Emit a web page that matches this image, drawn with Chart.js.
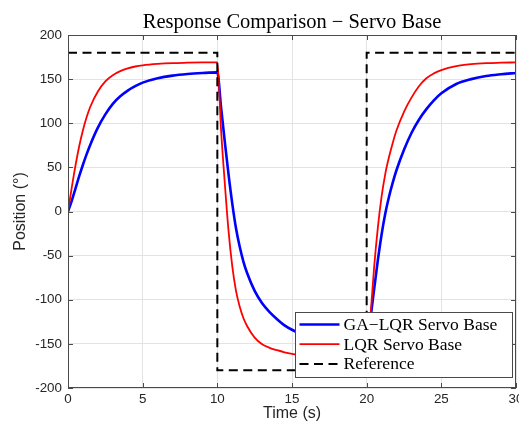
<!DOCTYPE html>
<html>
<head>
<meta charset="utf-8">
<script src="https://cdn.jsdelivr.net/npm/chart.js@4.4.1/dist/chart.umd.min.js"></script>
<style>
  html, body { margin: 0; padding: 0; background: #fff; }
  canvas { display: block; }
</style>
</head>
<body>
<canvas id="servoChart" width="519" height="430"></canvas>
<script>
// ---------- data ----------
const timeS = [
  0, 0.25, 0.5, 0.75, 1, 1.25, 1.5, 2, 2.5, 3, 3.5, 4, 4.5, 5, 6, 7, 8, 9,
  10, 10.25, 10.5, 10.75, 11, 11.25, 11.5, 11.75, 12, 12.5, 13, 13.5, 14, 14.5, 15, 16, 17, 18, 19,
  20, 20.25, 20.5, 20.75, 21, 21.25, 21.5, 21.75, 22, 22.5, 23, 23.5, 24, 24.5, 25, 26, 27, 28, 29, 30
];
const gaLqrServo = [
  0, 12, 26, 40, 53, 65, 76, 95, 110, 122, 130.5, 137, 142, 146, 151, 154, 155.8, 156.9,
  157.6, 118, 79, 42, 9, -19, -40, -57, -70, -90, -104, -114, -122, -129, -134, -142, -147.5, -151, -153.5,
  -155, -122, -88, -55, -26, -2, 17, 33, 47, 70, 89, 104, 116, 126, 134, 144.5, 150, 153.5, 155.5, 157
];
const lqrServo = [
  0, 27, 52, 74, 92, 107, 119, 136, 147.5, 154.5, 159, 162.2, 164.3, 165.7, 167.3, 168.2, 168.6, 168.9,
  169, 92, 32, -22, -62, -90, -108, -121, -130, -143, -150.5, -154.5, -157.2, -159.5, -161.3, -164, -165.8, -166.9, -167.6,
  -168, -120, -63, -18, 17, 43, 62, 78, 92, 113, 129, 142, 151, 156.5, 160.3, 164.8, 167, 168.1, 168.6, 169
];
const refTime = [0, 10, 10, 20, 20, 30];
const refPosition = [180, 180, -180, -180, 180, 180];

const xTicks = [0, 5, 10, 15, 20, 25, 30];
const yTicks = [-200, -150, -100, -50, 0, 50, 100, 150, 200];

const toPoints = (xs, ys) => xs.map((x, i) => ({ x: x, y: ys[i] }));

const axisColor = '#262626';
const gridColor = '#e3e3e3';
const tickFont = { family: 'Liberation Sans, Arial, sans-serif', size: 13.4 };
const labelFont = { family: 'Liberation Sans, Arial, sans-serif', size: 16 };
const serif = 'Liberation Serif, "Times New Roman", serif';

// title, axes box, inward ticks and the inside legend (MATLAB look)
const matlabFrame = {
  id: 'matlabFrame',
  afterDatasetsDraw(chart) {
    const { ctx, chartArea: a, scales } = chart;
    ctx.save();

    // box
    ctx.strokeStyle = '#4a4a4a';
    ctx.lineWidth = 1;
    ctx.setLineDash([]);
    ctx.strokeRect(Math.round(a.left) + 0.5, Math.round(a.top) + 0.5,
      Math.round(a.right - a.left) - 1, Math.round(a.bottom - a.top) - 1);

    // inward ticks
    const len = 5;
    ctx.beginPath();
    xTicks.forEach(v => {
      const px = Math.round(scales.x.getPixelForValue(v)) + 0.5;
      ctx.moveTo(px, a.bottom); ctx.lineTo(px, a.bottom - len);
      ctx.moveTo(px, a.top); ctx.lineTo(px, a.top + len);
    });
    yTicks.forEach(v => {
      const py = Math.round(scales.y.getPixelForValue(v)) + 0.5;
      ctx.moveTo(a.left, py); ctx.lineTo(a.left + len, py);
      ctx.moveTo(a.right, py); ctx.lineTo(a.right - len, py);
    });
    ctx.stroke();

    // title
    ctx.fillStyle = '#000';
    ctx.font = '20.5px ' + serif;
    ctx.textAlign = 'center';
    ctx.textBaseline = 'alphabetic';
    ctx.fillText('Response Comparison \u2212 Servo Base', (a.left + a.right) / 2, 27.5);

    // legend
    const box = { x: 295.5, y: 312.5, w: 217, h: 65 };
    ctx.fillStyle = '#fff';
    ctx.fillRect(box.x, box.y, box.w, box.h);
    ctx.strokeStyle = '#4a4a4a';
    ctx.lineWidth = 1;
    ctx.strokeRect(box.x, box.y, box.w, box.h);
    ctx.font = '17.5px ' + serif;
    ctx.textAlign = 'left';
    ctx.textBaseline = 'middle';
    chart.data.datasets.forEach((ds, i) => {
      const y = box.y + 12 + i * 19.7;
      ctx.beginPath();
      ctx.strokeStyle = ds.borderColor;
      ctx.lineWidth = ds.borderWidth;
      ctx.setLineDash(ds.borderDash || []);
      ctx.moveTo(box.x + 4, y);
      ctx.lineTo(box.x + 44, y);
      ctx.stroke();
      ctx.setLineDash([]);
      ctx.fillStyle = '#000';
      ctx.fillText(ds.label, box.x + 48, y + 1);
    });
    ctx.restore();
  }
};

const ctx = document.getElementById('servoChart').getContext('2d');
new Chart(ctx, {
  type: 'line',
  data: {
    datasets: [
      {
        label: 'GA\u2212LQR Servo Base',
        data: toPoints(timeS, gaLqrServo),
        borderColor: '#0000ff',
        borderWidth: 2.6,
        pointRadius: 0,
        cubicInterpolationMode: 'monotone',
        order: 3
      },
      {
        label: 'LQR Servo Base',
        data: toPoints(timeS, lqrServo),
        borderColor: '#ff0000',
        borderWidth: 1.8,
        pointRadius: 0,
        cubicInterpolationMode: 'monotone',
        order: 2
      },
      {
        label: 'Reference',
        data: toPoints(refTime, refPosition),
        borderColor: '#000000',
        borderWidth: 2,
        borderDash: [9, 5.5],
        pointRadius: 0,
        tension: 0,
        order: 1
      }
    ]
  },
  options: {
    responsive: false,
    animation: false,
    devicePixelRatio: 1,
    layout: { padding: { left: 0, right: 3, top: 35, bottom: 0 } },
    plugins: {
      legend: { display: false },
      title: { display: false },
      tooltip: { enabled: false }
    },
    scales: {
      x: {
        type: 'linear',
        min: 0,
        max: 30,
        afterBuildTicks: s => { s.ticks = xTicks.map(v => ({ value: v })); },
        ticks: { color: axisColor, font: tickFont, padding: 3, maxRotation: 0, autoSkip: false },
        grid: { color: gridColor, drawTicks: false },
        border: { display: false },
        title: { display: true, text: 'Time (s)', color: axisColor, font: labelFont, padding: { top: 0, bottom: 6.4 } },
        afterFit: s => { s.height = 42; s.paddingLeft = 0; s.paddingRight = 0; }
      },
      y: {
        type: 'linear',
        min: -200,
        max: 200,
        afterBuildTicks: s => { s.ticks = yTicks.map(v => ({ value: v })); },
        ticks: { color: axisColor, font: tickFont, padding: 6 },
        grid: { color: gridColor, drawTicks: false },
        border: { display: false },
        title: { display: true, text: 'Position (°)', color: axisColor, font: labelFont, padding: { top: 11.4, bottom: 0 } },
        afterFit: s => { s.width = 68; s.paddingTop = 0; s.paddingBottom = 0; }
      }
    }
  },
  plugins: [matlabFrame]
});
</script>
</body>
</html>
